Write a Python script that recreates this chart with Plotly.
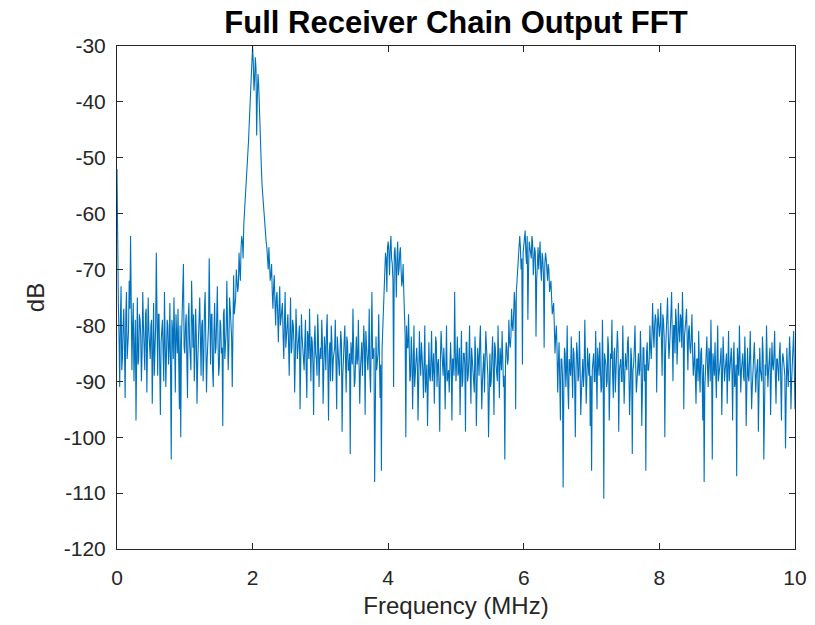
import plotly.graph_objects as go

# FFT bin spacing (MHz); magnitude readings (dB) for even bins (0.00, 0.02, ...)
# and odd bins (0.01, 0.03, ...), one list per MHz
step_mhz = 0.01

db_0_1 = [-52, -76, -91, -73, -86, -77, -93, -74, -82, -72,
          -64, -88, -76, -84, -97, -75, -86, -79, -90, -74,
          -83, -78, -92, -75, -86, -80, -94, -76, -84, -67,
          -89, -78, -96, -80, -85, -74, -91, -79, -87, -76,
          -104, -81, -75, -92, -82, -77, -95, -100, -79, -69]
db_1_2 = [-85, -78, -93, -76, -88, -72, -84, -90, -77, -94,
          -80, -75, -89, -79, -86, -74, -92, -81, -68, -87,
          -78, -91, -76, -84, -73, -89, -79, -85, -98, -77,
          -83, -72, -88, -75, -80, -91, -71, -76, -70, -74,
          -67, -72, -64, -68, -60, -57, -52, -47, -41, -36]
db_2_3 = [-30, -38, -32, -46, -35, -42, -50, -55, -59, -63,
          -65, -68, -66, -72, -69, -77, -71, -80, -74, -83,
          -73, -79, -76, -86, -74, -82, -78, -89, -75, -84,
          -80, -92, -77, -86, -81, -95, -78, -84, -88, -79,
          -93, -82, -77, -90, -83, -96, -80, -86, -78, -91]
db_3_4 = [-84, -79, -94, -82, -88, -78, -97, -83, -80, -90,
          -85, -79, -95, -84, -89, -81, -99, -86, -80, -92,
          -83, -88, -103, -85, -77, -91, -82, -87, -79, -94,
          -84, -89, -80, -96, -83, -88, -77, -92, -74, -85,
          -108, -82, -87, -78, -93, -106, -80, -72, -67, -74]
db_4_5 = [-65, -71, -64, -69, -91, -66, -75, -65, -70, -66,
          -73, -69, -79, -100, -84, -78, -90, -82, -95, -80,
          -88, -84, -97, -81, -89, -85, -93, -80, -87, -98,
          -83, -90, -81, -88, -94, -82, -91, -86, -99, -81,
          -89, -84, -95, -80, -88, -92, -83, -97, -86, -74]
db_5_6 = [-90, -82, -88, -96, -81, -90, -85, -99, -83, -89,
          -80, -94, -86, -91, -82, -98, -84, -89, -80, -95,
          -87, -92, -81, -88, -100, -85, -90, -82, -96, -84,
          -89, -80, -93, -86, -81, -91, -104, -83, -87, -79,
          -84, -77, -81, -74, -95, -72, -68, -64, -70, -87]
db_6_7 = [-66, -63, -69, -79, -65, -68, -64, -71, -66, -82,
          -67, -70, -65, -72, -68, -84, -67, -71, -69, -74,
          -72, -78, -76, -85, -80, -92, -83, -97, -86, -109,
          -84, -91, -80, -95, -87, -82, -93, -85, -100, -83,
          -90, -81, -96, -86, -91, -79, -94, -84, -89, -98]
db_7_8 = [-106, -85, -90, -81, -95, -87, -83, -92, -79, -111,
          -86, -91, -82, -97, -85, -79, -93, -84, -89, -81,
          -99, -86, -90, -80, -94, -85, -88, -82, -96, -84,
          -103, -87, -80, -92, -85, -89, -81, -98, -84, -90,
          -106, -83, -88, -80, -86, -76, -84, -78, -92, -77]
db_8_9 = [-82, -76, -89, -79, -100, -81, -75, -86, -78, -74,
          -90, -80, -77, -87, -76, -83, -79, -74, -95, -81,
          -77, -88, -80, -85, -78, -89, -83, -94, -86, -81,
          -92, -84, -97, -108, -88, -82, -91, -85, -79, -104,
          -87, -83, -93, -80, -89, -86, -96, -82, -90, -85]
db_9_10 = [-94, -81, -88, -84, -97, -83, -90, -107, -86, -80,
           -92, -85, -89, -82, -98, -84, -90, -81, -95, -87,
           -83, -92, -86, -99, -84, -89, -82, -104, -87, -80,
           -91, -85, -96, -83, -88, -81, -94, -86, -90, -83,
           -97, -85, -89, -102, -84, -91, -82, -95, -86, -81,
           -95]

odd_0_1 = [-70, -82, -79, -88, -80, -84, -78, -86, -81, -77,
           -85, -80, -90, -79, -83, -87, -78, -82, -85, -80,
           -88, -77, -83, -81, -86, -79, -84, -89, -80, -82,
           -78, -87, -83, -79, -90, -81, -85, -80, -84, -88,
           -79, -86, -82, -78, -85, -91, -80, -83, -77, -84]
odd_1_2 = [-80, -86, -79, -83, -88, -81, -78, -85, -82, -87,
           -79, -84, -80, -90, -77, -83, -86, -80, -82, -78,
           -88, -81, -85, -79, -83, -87, -80, -84, -78, -86,
           -81, -79, -84, -77, -82,
           -79, -78, -75, -72, -73, -70, -66, -65, -62, -58,
           -55, -49, -44, -38, -32]
odd_2_3 = [-33, -36, -34, -39, -37, -45, -52, -57, -60, -64,
           -66, -70, -68, -71, -74, -73, -76, -75, -78, -77,
           -80, -78, -82, -79, -84, -80, -83, -81, -85, -79,
           -83, -86, -81, -84, -80, -87, -82, -85, -83, -88,
           -81, -86, -84, -82, -87, -83, -85, -89, -82, -86]
odd_3_4 = [-86, -83, -88, -84, -81, -87, -85, -90, -83, -86,
           -84, -88, -82, -87, -85, -83, -89, -84, -86, -82,
           -88, -85, -83, -87, -84, -90, -82, -86, -85, -88,
           -83, -86, -84, -81, -87, -85, -89, -83, -86, -84,
           -82, -88, -85, -83, -87,
           -84, -78, -70, -68, -66]
odd_4_5 = [-67, -66, -68, -72, -67, -69, -68, -71, -67, -70,
           -72, -74, -82, -80, -84,
           -86, -89, -85, -88, -91, -84, -87, -90, -86, -83,
           -88, -85, -92, -87, -84, -89, -86, -90, -85, -88,
           -83, -87, -91, -86, -84, -89, -87, -85, -90, -88,
           -84, -87, -86, -89, -85]
odd_5_6 = [-86, -89, -84, -88, -91, -85, -87, -83, -90, -86,
           -88, -84, -87, -92, -85, -89, -86, -83, -88, -90,
           -85, -87, -84, -89, -86, -91, -85, -88, -83, -87,
           -90, -86, -84, -88, -85, -89, -87, -84, -86, -83,
           -82, -80, -78, -76, -74, -70, -67, -66, -68, -67]
odd_6_7 = [-65, -67, -64, -70, -66, -68, -65, -69, -67, -72,
           -66, -68, -70, -67, -71, -69, -68, -72, -70, -73,
           -75, -77, -80, -82, -84,
           -87, -90, -86, -89, -92, -85, -88, -91, -86, -89,
           -87, -84, -90, -88, -85, -89, -87, -92, -86, -88,
           -84, -90, -87, -85, -89]
odd_7_8 = [-88, -85, -90, -87, -84, -89, -86, -91, -88, -85,
           -87, -90, -84, -88, -86, -89, -85, -92, -87, -84,
           -88, -86, -90, -85, -89, -87, -83, -88, -91, -86,
           -88, -84, -87, -90, -85, -88, -86, -89, -84, -87,
           -85, -88, -86,
           -84, -82, -81, -80, -79, -81, -80]
odd_8_9 = [-80, -83, -78, -82, -85, -79, -81, -84, -78, -82,
           -80, -85, -79, -83, -81, -78, -84, -80, -82, -79,
           -83, -81, -84, -82,
           -85, -87, -89, -86, -90, -88, -85, -89, -87, -91,
           -86, -88, -84, -90, -87, -85, -89, -88, -86, -90,
           -87, -84, -89, -86, -88, -85]
odd_9_10 = [-87, -90, -85, -88, -86, -91, -87, -84, -89, -86,
            -88, -85, -90, -87, -84, -89, -86, -88, -91, -85,
            -87, -89, -86, -84, -88, -90, -85, -87, -89, -86,
            -88, -84, -90, -87, -85, -89, -86, -88, -85, -90,
            -87, -86, -89, -84, -88, -87, -85, -90, -86, -88]

x_ticks = [0, 2, 4, 6, 8, 10]
y_ticks = [-120, -110, -100, -90, -80, -70, -60, -50, -40, -30]

even_db = db_0_1 + db_1_2 + db_2_3 + db_3_4 + db_4_5 + db_5_6 + db_6_7 + db_7_8 + db_8_9 + db_9_10
odd_db = odd_0_1 + odd_1_2 + odd_2_3 + odd_3_4 + odd_4_5 + odd_5_6 + odd_6_7 + odd_7_8 + odd_8_9 + odd_9_10

mag_db = []
for k in range(len(odd_db)):
    mag_db.append(even_db[k])
    mag_db.append(odd_db[k])
mag_db.append(even_db[-1])
freq_mhz = [round(i * step_mhz, 4) for i in range(len(mag_db))]

axis_color = "#262626"
font_family = "Liberation Sans, Arial, Helvetica, sans-serif"

fig = go.Figure()
fig.add_trace(go.Scatter(
    x=freq_mhz, y=mag_db, mode="lines",
    line=dict(color="#0072BD", width=1.1),
    hoverinfo="x+y", showlegend=False,
))

fig.update_layout(
    width=815, height=625,
    margin=dict(l=117, r=20, t=46, b=76),
    paper_bgcolor="white", plot_bgcolor="white",
    font=dict(family=font_family, color=axis_color, size=21),
    title=dict(text="<b>Full Receiver Chain Output FFT</b>",
               x=0.5, xref="paper", xanchor="center",
               y=0.965, yref="container", yanchor="middle",
               font=dict(size=31, color="black", family=font_family)),
)

fig.update_xaxes(
    range=[0, 10], tickvals=x_ticks, ticktext=[str(v) for v in x_ticks],
    ticks="inside", ticklen=6, tickcolor=axis_color, tickwidth=1,
    showline=True, linecolor=axis_color, linewidth=1, mirror="ticks",
    showgrid=False, zeroline=False, automargin=False,
    tickfont=dict(size=21, color=axis_color), ticklabelstandoff=10,
    title=dict(text="Frequency (MHz)", font=dict(size=24, color=axis_color), standoff=8),
)
fig.update_yaxes(
    range=[-120, -30], tickvals=y_ticks, ticktext=[str(v) for v in y_ticks],
    ticks="inside", ticklen=6, tickcolor=axis_color, tickwidth=1,
    showline=True, linecolor=axis_color, linewidth=1, mirror="ticks",
    showgrid=False, zeroline=False, automargin=False,
    tickfont=dict(size=21, color=axis_color), ticklabelstandoff=6,
    title=dict(text="dB", font=dict(size=24, color=axis_color), standoff=12),
)

fig.write_html("out.html")
